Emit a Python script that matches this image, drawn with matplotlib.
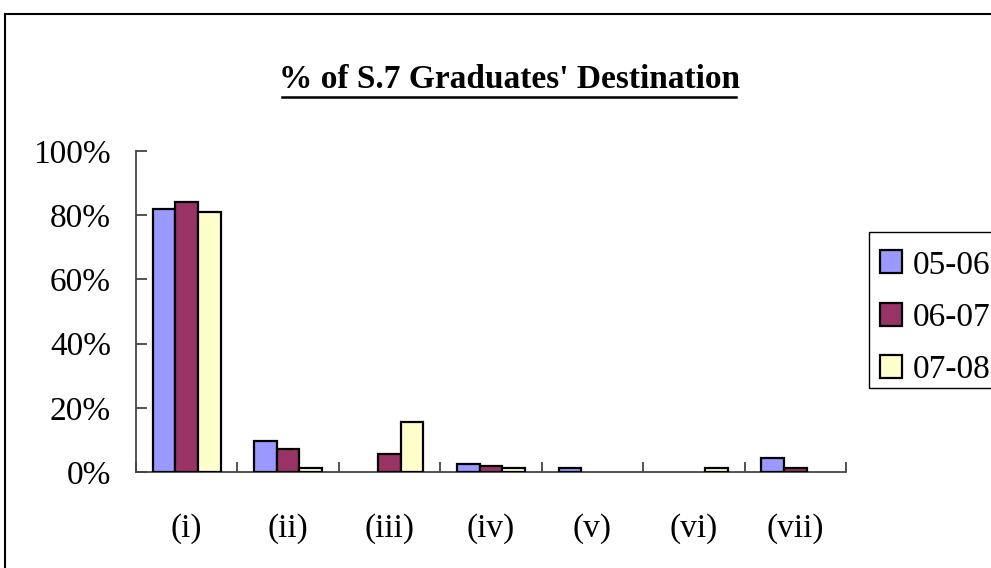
import matplotlib
matplotlib.use("Agg")
import matplotlib.pyplot as plt
from matplotlib.patches import Rectangle
import numpy as np

categories = ["(i)", "(ii)", "(iii)", "(iv)", "(v)", "(vi)", "(vii)"]
y0506 = [82, 9.7, 0, 2.5, 1.2, 0, 4.5]
y0607 = [84, 7.1, 5.6, 1.9, 0, 0, 1.1]
y0708 = [81, 1.2, 15.5, 1.2, 0, 1.2, 0]
series = ["05-06", "06-07", "07-08"]
colors = ["#9999FF", "#993366", "#FFFFCC"]

plt.rcParams['font.family'] = ['Liberation Serif', 'DejaVu Serif']

fig = plt.figure(figsize=(9.91, 5.68), dpi=100)
W, H = 991, 568
ax = fig.add_axes([136 / W, 1 - 472 / H, 710 / W, 321 / H])

x = np.arange(len(categories))
bw = 1 / 4.5
for k, (vals, c, lab) in enumerate(zip([y0506, y0607, y0708], colors, series)):
    v = np.array(vals, dtype=float)
    v[v == 0] = np.nan  # zero bars are not drawn in the original
    ax.bar(x + (k - 1) * bw, v, width=bw, color=c, edgecolor="black",
           linewidth=1.6, label=lab, zorder=3)

ax.set_xlim(-0.5, len(categories) - 0.5)
ax.set_ylim(0, 100)
ax.set_yticks([0, 20, 40, 60, 80, 100])
ax.set_yticklabels(["0%", "20%", "40%", "60%", "80%", "100%"])
ax.set_xticks(x)
ax.set_xticklabels(categories)
ax.set_xticks(np.arange(len(categories) + 1) - 0.5, minor=True)

for s in ["top", "right"]:
    ax.spines[s].set_visible(False)
for s in ["left", "bottom"]:
    ax.spines[s].set_color("#444444")
    ax.spines[s].set_linewidth(1.3)

ax.tick_params(axis="y", direction="in", length=8, width=1.3, color="#444444",
               labelsize=24, pad=18)
ax.tick_params(axis="x", which="major", length=0, labelsize=24, pad=30)
ax.tick_params(axis="x", which="minor", direction="in", length=7, width=1.3,
               color="#444444")

fig.text(509 / W, 1 - 79 / H, "% of S.7 Graduates' Destination", ha="center",
         va="center", fontsize=24, fontweight="bold")
fig.add_artist(plt.Line2D([282 / W, 736 / W], [1 - 97 / H, 1 - 97 / H],
                          color="black", linewidth=1.8))

# legend without its own frame, box drawn separately (runs off the right edge)
leg = fig.legend(loc="upper left", bbox_to_anchor=(880 / W, 1 - 250 / H),
                 fontsize=24, frameon=False,
                 handlelength=0.67, handleheight=0.67, handletextpad=0.3,
                 labelspacing=0.66, borderpad=0, borderaxespad=0)
fig.add_artist(Rectangle((869 / W, 1 - 388 / H), 0.3, 156 / H,
                         transform=fig.transFigure, fill=False,
                         edgecolor="black", linewidth=1.0))

fig.add_artist(Rectangle((5 / W, -0.1), 1.2, 1 - 14 / H + 0.1,
                         transform=fig.transFigure, fill=False,
                         edgecolor="black", linewidth=1.5))

fig.savefig("out.png", dpi=100)
